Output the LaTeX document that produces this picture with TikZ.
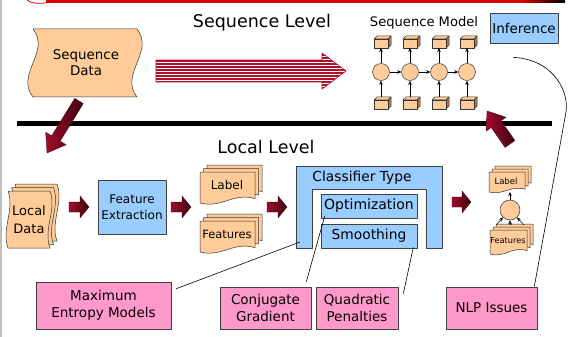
\documentclass[tikz,border=0pt]{standalone}
\usepackage{fontspec}
\setmainfont{DejaVu Sans}
\usetikzlibrary{arrows.meta,calc}
\definecolor{peach}{HTML}{FFCC99}
\definecolor{peachdark}{HTML}{A87A50}
\definecolor{lblue}{HTML}{99CCFF}
\definecolor{pinkbox}{HTML}{FF99CC}
\definecolor{arrA}{HTML}{A00C2C}
\definecolor{arrB}{HTML}{3C0010}
\definecolor{stripe}{HTML}{B0102A}
\newcommand\fs[2]{\fontsize{#1}{#2}\selectfont}
% tape shape: style, x1,y1,x2,y2, wave amplitude
\newcommand\tape[6]{%
  \filldraw[#1] (#2,#3) -- (#4,#3)
    .. controls ({#4+#6},{#3+(#5-#3)/3}) and ({#4-#6},{#3+2*(#5-#3)/3}) .. (#4,#5)
    -- (#2,#5)
    .. controls ({#2-#6},{#5-(#5-#3)/3}) and ({#2+#6},{#3+(#5-#3)/3}) .. cycle;}
% document stack: x1,y1,x2,y2, offset
\newcommand\docstack[5]{%
  \foreach \k in {2,1,0}{%
    \begin{scope}[shift={(\k*#5,-\k*#5)}]
      \filldraw[docst] (#1,#2) -- (#3,#2) -- ({#3},{#4-0.14*(#4-#2)})
        .. controls ({#1+0.6*(#3-#1)},{#4-0.35*(#4-#2)}) and ({#1+0.4*(#3-#1)},{#4+0.18*(#4-#2)}) .. (#1,#4) -- cycle;
    \end{scope}}}
% block arrow: tail, tip, shaft half, head half, head length
\newcommand\blockarrow[5]{%
  \coordinate (bah) at ($(#2)!#5!(#1)$);
  \path[redarrow] ($(#1)!#3!90:(#2)$) -- ($(bah)!#3!-90:(#1)$) -- ($(bah)!#4!-90:(#1)$)
    -- (#2) -- ($(bah)!#4!90:(#1)$) -- ($(bah)!#3!90:(#1)$) -- ($(#1)!#3!-90:(#2)$) -- cycle;}
\tikzset{
  bluebox/.style={draw=black!75, fill=lblue, line width=0.6pt, inner sep=0pt, align=center},
  pinkbx/.style={draw=black!75, fill=pinkbox, line width=0.6pt, inner sep=0pt, align=center},
  docst/.style={draw=black!80, fill=peach, line width=0.5pt},
  conn/.style={draw=black, line width=0.6pt},
  sarrow/.style={-{Stealth[length=4pt,width=3.5pt]}, line width=0.5pt},
  redarrow/.style={left color=arrA, right color=arrB, draw=arrB, line width=0.3pt},
  node3d/.style={circle, draw=black!80, fill=peach, line width=0.5pt, inner sep=0pt},
  cube/.pic={
    \filldraw[docst] (-8.5,-3) -- (-5.5,-6) -- (8.5,-6) -- (5.5,-3) -- cycle;
    \filldraw[docst, fill=peachdark] (5.5,-3) -- (8.5,-6) -- (8.5,3) -- (5.5,6) -- cycle;
    \filldraw[docst] (-8.5,-3) rectangle (5.5,6);
    \coordinate (-n) at (-1.5,-6);
    \coordinate (-s) at (-1.5,6);
  }
}
\begin{document}
\begin{tikzpicture}[x=1pt,y=-1pt,font=\fs{13.5}{17},line join=round]
\useasboundingbox (0,0) rectangle (568,337);
\fill[white] (0,0) rectangle (568,337);
% frame remnants
\draw[black!25, line width=1.5pt] (0.75,0) -- (0.75,337);
\fill[red!85!black] (46,0) rectangle (522,3);
\shade[left color=red!85!black, right color=black] (522,0) rectangle (565,3);
\draw[red!90!black, line width=0.8pt] (27,0) .. controls (30,3.5) and (40,4) .. (48,2.5);

% titles
\node[font=\fs{17.5}{20}] (seqlevel) at (262,23) {Sequence Level};
\node[font=\fs{17.5}{20}] (loclevel) at (266,147) {Local Level};

% sequence data
\tape{docst}{33}{29}{137}{97}{18}
\node[align=center, font=\fs{13.4}{16}] (sd) at (86,63) {Sequence\\Data};

% striped arrow
\begin{scope}
  \clip (156,60) -- (322,60) -- (322,53) -- (346,71) -- (322,89) -- (322,82) -- (156,82) -- cycle;
  \fill[white] (150,50) rectangle (350,92);
  \foreach \yy in {52,55,...,91} \draw[stripe, line width=1.4pt] (150,\yy) -- (350,\yy);
\end{scope}
\draw[stripe, line width=0.6pt] (156,60) -- (322,60) -- (322,53) -- (346,71) -- (322,89) -- (322,82) -- (156,82) -- cycle;

% sequence model
\node[font=\fs{13.1}{15}] (seqmodel) at (424,23) {Sequence Model};
\node[bluebox, minimum width=68, minimum height=30] (inf) at (524,28) {Inference};
\foreach \i/\xx in {1/381,2/410,3/439,4/467}{
  \pic (t\i) at (\xx+1.5,42) {cube};
  \pic (b\i) at (\xx+1.5,103) {cube};
  \node[node3d, minimum size=17] (c\i) at (\xx,72) {};
  \draw[sarrow] (b\i-n) -- (c\i);
  \draw[sarrow] (c\i) -- (t\i-s);
}
\draw[sarrow] (c1) -- (c2);
\draw[sarrow] (c2) -- (c3);
\draw[sarrow] (c3) -- (c4);

% dividing line
\draw[line width=5pt] (17,123) -- (552,123);

% big red arrows
\coordinate (dtail) at (79,101);
\coordinate (dtip) at (47,153);
\blockarrow{dtail}{dtip}{5pt}{12pt}{17pt}
\coordinate (utail) at (510,144);
\coordinate (utip) at (487,111);
\blockarrow{utail}{utip}{6pt}{12pt}{16pt}

% local data
\foreach \k in {2,1,0}{%
  \begin{scope}[shift={(\k*3.5,-\k*3.5)}]
    \tape{docst}{8}{191}{50}{248}{7}
  \end{scope}}
\node[font=\fs{13}{18}, align=center] (ld) at (29,220) {Local\\Data};

% small red arrows
\coordinate (a1t) at (69,207); \coordinate (a1h) at (89,207);
\blockarrow{a1t}{a1h}{5pt}{11pt}{9pt}
\coordinate (a2t) at (171,207); \coordinate (a2h) at (191,207);
\blockarrow{a2t}{a2h}{5pt}{11pt}{9pt}
\coordinate (a3t) at (267,207); \coordinate (a3h) at (287,207);
\blockarrow{a3t}{a3h}{5pt}{11pt}{9pt}
\coordinate (a4t) at (452,202); \coordinate (a4h) at (471,202);
\blockarrow{a4t}{a4h}{5pt}{11pt}{9pt}

% feature extraction
\node[bluebox, minimum width=68, minimum height=54, font=\fs{12}{16}] (fe) at (132,207) {Feature\\Extraction};

% label / features stacks
\docstack{200}{172}{255}{203}{3.5}
\node[font=\fs{12}{14}] (lbl) at (227,185) {Label};
\docstack{200}{221}{255}{252}{3.5}
\node[font=\fs{11.5}{14}] (feat) at (227,234) {Features};

% classifier
\filldraw[draw=black!75, fill=lblue, line width=0.6pt] (296,166) -- (442,166) -- (442,248) -- (426,248)
  -- (426,189) -- (312,189) -- (312,248) -- (296,248) -- cycle;
\node[font=\fs{13.8}{16}] (ct) at (362,178) {Classifier Type};
\coordinate (ctleg) at (300,242);
\node[bluebox, minimum width=96, minimum height=24, font=\fs{14}{16}] (opt) at (369,206) {Optimization};
\node[bluebox, minimum width=96, minimum height=24, font=\fs{13.8}{16}] (smo) at (369,236) {Smoothing};

% local model
\docstack{489}{172}{525}{192}{3}
\node[font=\fs{8.5}{10}] (slbl) at (506,181) {Label};
\docstack{490}{230}{527}{254}{3}
\node[font=\fs{8.2}{10}] (sfeat) at (508,241) {Features};
\node[node3d, minimum size=20] (lc) at (510,210) {};
\coordinate (lf1) at (496,225);
\coordinate (lf2) at (510,225);
\coordinate (lf3) at (524,225);
\coordinate (lbs) at (510,192);
\draw[sarrow] (lf1) -- (lc);
\draw[sarrow] (lf2) -- (lc);
\draw[sarrow] (lf3) -- (lc);
\draw[sarrow] (lc) -- (lbs);

% pink boxes
\node[pinkbx, minimum width=135, minimum height=47] (maxent) at (103.5,305.5) {Maximum\\Entropy Models};
\node[pinkbx, minimum width=91, minimum height=42] (conj) at (265.5,308) {Conjugate\\Gradient};
\node[pinkbx, minimum width=82, minimum height=42] (quad) at (357,308) {Quadratic\\Penalties};
\node[pinkbx, minimum width=91, minimum height=42] (nlp) at (491.5,308) {NLP Issues};

% connectors
\draw[conn] ([shift={(5,7)}]maxent.north east) -- (ctleg);
\draw[conn] ([shift={(-5,-5)}]conj.north east) -- ([shift={(4,-2)}]opt.south west);
\draw[conn] ([shift={(5,7)}]quad.north east) -- ([shift={(-4,-1)}]smo.south east);
\draw[conn] ([shift={(-3,0)}]nlp.north east) -- (566,112) .. controls (569,95) and (557,60) .. ([shift={(-11,14)}]inf.south);
\end{tikzpicture}
\end{document}
